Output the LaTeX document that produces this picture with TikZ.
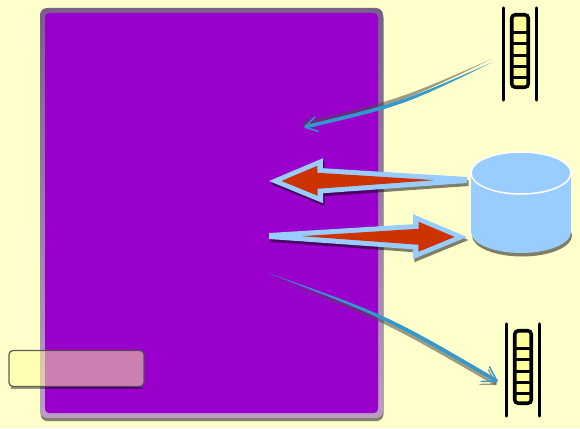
\documentclass[tikz,border=0pt]{standalone}
\usetikzlibrary{calc,shadows,shapes.geometric}
\definecolor{pagebg}{HTML}{FFFFCC}
\definecolor{serverfill}{HTML}{9900CC}
\definecolor{frametop}{HTML}{7A5F8A}
\definecolor{framebottom}{HTML}{BC9CC4}
\definecolor{paleblue}{HTML}{99CCFF}
\definecolor{flowred}{HTML}{CC3300}
\definecolor{flowblue}{HTML}{3399CC}
\definecolor{slotfill}{HTML}{FFFF99}
\tikzset{
  frame/.style={rectangle,rounded corners=7pt,inner sep=0pt,minimum width=343pt,minimum height=410pt,top color=frametop,bottom color=framebottom,drop shadow={shadow xshift=0.5pt,shadow yshift=-3pt,opacity=.5,fill=black}},
  serverbox/.style={rectangle,rounded corners=4pt,inner sep=0pt,minimum width=333pt,minimum height=400pt,fill=serverfill},
  notebox/.style={rectangle,rounded corners=4pt,inner sep=0pt,minimum width=135pt,minimum height=36pt,draw=black!70,line width=1.3pt,fill=slotfill,fill opacity=.5,draw opacity=.9},
  noteshadow/.style={draw=black,opacity=.4,line width=2pt,line cap=round},
  storeend/.style={ellipse,inner sep=0pt,minimum width=100pt,minimum height=42pt,fill=paleblue},
  storebody/.style={rectangle,inner sep=0pt,minimum width=100pt,minimum height=59pt,fill=paleblue},
  slots/.style={rectangle,rounded corners=3.5pt,inner sep=0pt,minimum width=16.5pt,minimum height=72.5pt,draw=black,line width=3.6pt,fill=slotfill},
  rail/.style={draw=black,line width=3pt,line cap=round},
  divider/.style={draw=black,line width=3pt},
}
% queue: name, centre
\newcommand{\queuestack}[2]{
  \node[slots] (#1) at (#2) {};
  \foreach \d in {20,31,42.5,53.5,64.5}
    \draw[divider] ([yshift=-\d pt]#1.north west) -- ([yshift=-\d pt]#1.north east);
  \draw[rail] ([shift={(-6.5pt,5pt)}]#1.north west) -- ([shift={(-6.5pt,-11pt)}]#1.south west);
  \draw[rail] ([shift={(6.5pt,5pt)}]#1.north east) -- ([shift={(6.5pt,-11pt)}]#1.south east);
}
% outline of a wide arrow: from, to, tail, neck, head half widths, head length
\newcommand{\blockpath}[6]{
  ($(#1)!#3pt!90:(#2)$) -- ($(#2)!#6pt!(#1)!#4pt!-90:(#1)$) -- ($(#2)!#6pt!(#1)!#5pt!-90:(#1)$) -- (#2)
  -- ($(#2)!#6pt!(#1)!#5pt!90:(#1)$) -- ($(#2)!#6pt!(#1)!#4pt!90:(#1)$) -- ($(#1)!#3pt!-90:(#2)$) -- cycle
}
\newcommand{\blockarrow}[2]{
  \coordinate (inA) at ($(#1)!34pt!(#2)$);
  \coordinate (inB) at ($(#2)!12.5pt!(#1)$);
  \fill[black,opacity=.5,transform canvas={shift={(1.5pt,-3pt)}}] \blockpath{#1}{#2}{3}{12.5}{22.5}{54};
  \fill[paleblue] \blockpath{#1}{#2}{3}{12.5}{22.5}{54};
  \fill[flowred] \blockpath{inA}{inB}{0.1}{8}{15}{36};
}
% thin curved arrow: tail, control, tip, colour, barb length
\newcommand{\curvepath}[5]{
  \fill[#4] (#1) .. controls ($(#2)!2pt!-90:(#3)$) .. ($(#3)!1.7pt!90:(#2)$) -- ($(#3)!1.7pt!-90:(#2)$) .. controls ($(#2)!2pt!90:(#3)$) .. (#1) -- cycle;
  \draw[#4,line width=1.4pt,line cap=round] ($(#3)!#5pt!32:(#2)$) -- (#3) -- ($(#3)!#5pt!-32:(#2)$);
}
\begin{document}
\begin{tikzpicture}[x=1pt,y=-1pt]
\useasboundingbox (0,0) rectangle (580,428);
\fill[pagebg] (0,0) rectangle (580,428);
\node[frame] (frame) at (211.5,213) {};
\node[serverbox] (server) at (211.5,213) {};
\node[notebox] (note) at (76.5,368.5) {};
\draw[noteshadow] ([shift={(3pt,-0.8pt)}]note.south west) -- ([shift={(-3pt,-0.8pt)}]note.south east);

\node[storeend,drop shadow={shadow xshift=1pt,shadow yshift=-3.5pt,opacity=.5,fill=black}] (dbbase) at (521,232) {};
\node[storebody] (db) at (521,202.5) {};
\node[storeend,draw=white,line width=1.5pt] (dbtop) at (521,173) {};

\queuestack{qtop}{520,51}
\queuestack{qbottom}{523,367}

\coordinate (dbout) at (467,180);
\coordinate (dbin) at (467,237);
\coordinate (readend) at (269,181);
\coordinate (writestart) at (269,236);
\blockarrow{dbout}{readend}
\blockarrow{writestart}{dbin}

\coordinate (qtail) at (493,62);
\coordinate (qbend) at (402,104);
\coordinate (qtip) at (305,127);
\begin{scope}[transform canvas={shift={(-1.5pt,3pt)}}]
\curvepath{qtail}{qbend}{qtip}{black!70,opacity=.55}{14}
\end{scope}
\curvepath{qtail}{qbend}{qtip}{flowblue}{14}

\coordinate (otail) at (268,273);
\coordinate (obend) at (387,317);
\coordinate (otip) at (497,381);
\begin{scope}[transform canvas={shift={(-1pt,-3pt)}}]
\curvepath{otail}{obend}{otip}{black!70,opacity=.55}{16}
\end{scope}
\curvepath{otail}{obend}{otip}{flowblue}{16}
\end{tikzpicture}
\end{document}
